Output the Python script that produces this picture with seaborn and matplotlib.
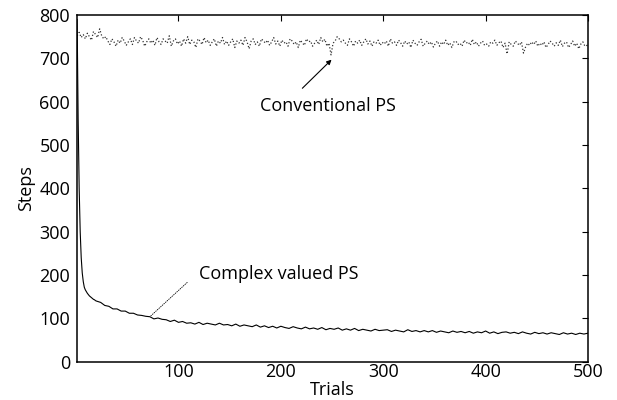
import numpy as np
import pandas as pd
import matplotlib
matplotlib.use("Agg")
import matplotlib.pyplot as plt
import seaborn as sns

# ---- data ----
conv_trials = list(range(1, 500, 2)) + [500]
conv_steps = [
    752, 760, 748, 755, 745, 758, 750, 742, 762, 755, 748, 768, 752, 745, 750, 740, 732, 745, 738, 728, 742, 735, 748, 740, 730,
    738, 745, 732, 748, 740, 735, 750, 742, 728, 738, 745, 735, 742, 730, 748, 738, 732, 745, 740, 735, 752, 728, 740, 745, 733,
    740, 728, 745, 735, 750, 732, 742, 738, 725, 745, 740, 732, 748, 736, 742, 730, 738, 745, 728, 740, 735, 748, 732, 740, 730,
    738, 745, 725, 740, 735, 742, 730, 748, 738, 722, 740, 745, 732, 738, 728, 745, 740, 735, 742, 730, 738, 748, 733, 740, 728,
    742, 735, 738, 728, 745, 740, 732, 738, 725, 742, 736, 730, 745, 738, 740, 728, 735, 742, 732, 748, 738, 744, 728, 735, 708,
    735, 740, 750, 745, 738, 742, 735, 730, 745, 738, 728, 740, 735, 742, 730, 738, 745, 733, 740, 728, 738, 735, 742, 730, 737,
    733, 740, 728, 745, 735, 738, 730, 742, 736, 728, 740, 733, 738, 725, 742, 735, 730, 738, 744, 728, 735, 740, 732, 738, 726,
    735, 740, 728, 738, 732, 742, 730, 736, 725, 738, 740, 732, 735, 728, 742, 735, 738, 730, 744, 732, 738, 728, 735, 740, 730,
    733, 728, 738, 735, 742, 730, 736, 740, 725, 735, 710, 738, 732, 728, 740, 735, 730, 738, 712, 726, 735, 730, 738, 732, 740,
    728, 735, 730, 738, 725, 732, 740, 735, 728, 736, 730, 742, 727, 735, 738, 725, 732, 740, 728, 735, 722, 733, 738, 728, 730,
    726,
]

cplx_trials = list(range(1, 21)) + list(range(24, 501, 4))
cplx_steps = [
    790, 560, 400, 300, 240, 205, 185, 172, 166, 162, 158, 155, 152, 150, 148, 146, 144, 143, 141, 140,
    137, 130, 128, 122, 122, 117, 117, 112, 112, 108,
    107, 105, 104, 99, 101, 98, 97, 93, 96, 91,
    93, 89, 90, 87, 91, 86, 89, 87, 85, 89,
    85, 86, 83, 87, 82, 85, 83, 81, 85, 80,
    83, 79, 82, 78, 82, 79, 77, 81, 78, 76,
    80, 76, 78, 75, 79, 74, 77, 75, 78, 73,
    76, 73, 77, 72, 75, 73, 71, 75, 72, 73,
    74, 70, 73, 71, 69, 74, 70, 72, 69, 72,
    69, 72, 68, 71, 69, 67, 71, 68, 70, 67,
    70, 66, 69, 67, 71, 66, 69, 65, 68, 69,
    66, 68, 65, 69, 66, 64, 68, 65, 67, 64,
    67, 65, 63, 67, 64, 66, 63, 66, 64, 66,
]

x_ticks = [100, 200, 300, 400, 500]
y_ticks = [0, 100, 200, 300, 400, 500, 600, 700, 800]

# ---- plot ----
sns.set_style("white")
plt.rcParams["font.family"] = ["Open Sans", "DejaVu Sans"]
plt.rcParams["text.color"] = "black"
plt.rcParams["axes.labelcolor"] = "black"

fig = plt.figure(figsize=(6.17, 4.00), dpi=100)
ax = fig.add_axes([0.125, 0.0955, 0.828, 0.867])

conv = pd.DataFrame({"Trials": conv_trials, "Steps": conv_steps})
cplx = pd.DataFrame({"Trials": cplx_trials, "Steps": cplx_steps})

sns.lineplot(data=conv, x="Trials", y="Steps", ax=ax, color="#333333",
             linestyle=":", linewidth=0.9)
sns.lineplot(data=cplx, x="Trials", y="Steps", ax=ax, color="black",
             linewidth=0.8)

ax.set_xlim(1, 500)
ax.set_ylim(0, 800)
ax.set_xticks(x_ticks)
ax.set_yticks(y_ticks)
ax.tick_params(axis="both", direction="in", top=True, right=True, length=4,
               width=0.8, labelsize=13, colors="black")
ax.tick_params(axis="x", pad=1)
ax.tick_params(axis="y", pad=5)
for s in ax.spines.values():
    s.set_color("black")
    s.set_linewidth(1.1)
ax.set_xlabel("Trials", fontsize=13, labelpad=0)
ax.set_ylabel("Steps", fontsize=13, labelpad=3)

# Conventional PS label with arrow
ax.text(246, 590, "Conventional PS", ha="center", va="center", fontsize=13)
ax.annotate("", xy=(249.5, 697), xytext=(221, 631),
            arrowprops=dict(arrowstyle="-|>", color="black", lw=0.8,
                            mutation_scale=7, shrinkA=0, shrinkB=0))
# Complex valued PS label with dotted leader
ax.text(120, 203, "Complex valued PS", ha="left", va="center", fontsize=13)
ax.annotate("", xy=(73, 106), xytext=(108.5, 183),
            arrowprops=dict(arrowstyle="-", color="black", lw=0.6,
                            linestyle=":", shrinkA=0, shrinkB=0))

fig.savefig("out.png", dpi=100, facecolor="white")
